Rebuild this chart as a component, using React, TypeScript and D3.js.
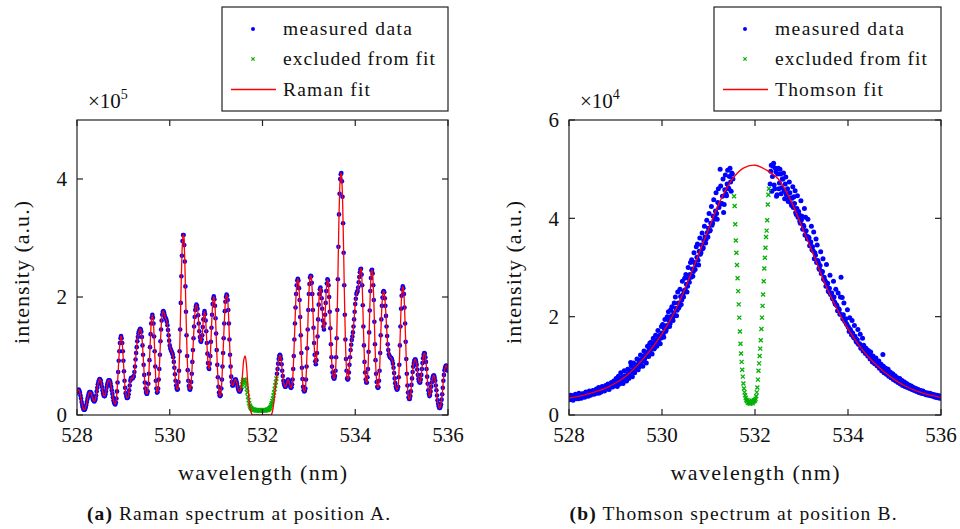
import React from 'react';
import * as d3 from 'd3';

// shared axis settings
const xDomain: [number, number] = [528, 536];
const xTicks = [528, 530, 532, 534, 536];
const ramanYTicks = [0, 2, 4];
const thomsonYTicks = [0, 2, 4, 6];

// Raman spectrum (units of 1e5), one sample every 0.025 nm from 528 nm
const ramanStep = 0.025;
const ramanStart = 528;
const ramanMeasured = [
  0.38, 0.42, 0.41, 0.33, 0.22, 0.13, 0.09, 0.10, 0.17, 0.27,
  0.35, 0.39, 0.38, 0.32, 0.25, 0.23, 0.28, 0.40, 0.52, 0.59,
  0.60, 0.53, 0.42, 0.33, 0.32, 0.40, 0.51, 0.58, 0.59, 0.53,
  0.42, 0.30, 0.21, 0.18, 0.28, 0.55, 0.92, 1.22, 1.34, 1.22,
  0.92, 0.58, 0.37, 0.29, 0.30, 0.42, 0.58, 0.63, 0.62, 0.66,
  0.82, 1.05, 1.25, 1.38, 1.44, 1.45, 1.32, 1.02, 0.68, 0.45,
  0.36, 0.40, 0.70, 1.15, 1.55, 1.70, 1.55, 1.08, 0.58, 0.38,
  0.45, 0.78, 1.25, 1.60, 1.75, 1.74, 1.66, 1.62, 1.52, 1.35,
  1.18, 1.10, 1.06, 0.98, 0.80, 0.58, 0.45, 0.44, 0.75, 1.45,
  2.35, 2.95, 3.05, 2.60, 1.75, 1.00, 0.58, 0.44, 0.46, 0.70,
  1.10, 1.50, 1.78, 1.87, 1.80, 1.55, 1.32, 1.24, 1.35, 1.62,
  1.76, 1.60, 1.22, 0.88, 0.78, 1.00, 1.48, 1.88, 2.01, 1.85,
  1.38, 0.85, 0.48, 0.33, 0.34, 0.60, 1.05, 1.55, 1.92, 2.04,
  1.95, 1.55, 1.02, 0.65, 0.50, 0.52, 0.59, 0.60, 0.53, 0.44,
  0.40, 0.42, 0.48, 0.56, 0.60, 0.58, 0.50, 0.38, 0.25, 0.16,
  0.12, 0.10, 0.09, 0.09, 0.08, 0.08, 0.08, 0.08, 0.08, 0.08,
  0.08, 0.08, 0.08, 0.08, 0.09, 0.09, 0.11, 0.14, 0.20, 0.28,
  0.38, 0.50, 0.62, 0.78, 0.95, 1.02, 0.95, 0.75, 0.58, 0.50,
  0.48, 0.55, 0.60, 0.56, 0.48, 0.47, 0.60, 1.00, 1.55, 2.05,
  2.28, 2.28, 1.95, 1.35, 0.80, 0.48, 0.40, 0.45, 0.82, 1.45,
  2.05, 2.33, 2.35, 2.05, 1.48, 1.02, 0.86, 1.05, 1.62, 2.05,
  2.16, 1.98, 1.60, 1.45, 1.70, 2.10, 2.30, 2.20, 1.75, 1.20,
  0.82, 0.65, 0.62, 0.75, 1.30, 2.30, 3.40, 4.00, 4.10, 3.70,
  2.75, 1.70, 0.95, 0.62, 0.62, 0.85, 1.10, 1.27, 1.40, 1.62,
  1.88, 2.05, 2.10, 2.25, 2.42, 2.48, 2.20, 1.50, 0.90, 0.60,
  0.55, 0.78, 1.40, 2.10, 2.45, 2.40, 1.95, 1.20, 0.70, 0.48,
  0.47, 0.75, 1.35, 1.85, 2.08, 2.08, 1.85, 1.50, 1.20, 1.03,
  0.98, 0.97, 0.92, 0.80, 0.62, 0.48, 0.43, 0.48, 0.85, 1.50,
  2.02, 2.18, 2.05, 1.55, 0.95, 0.50, 0.30, 0.27, 0.40, 0.62,
  0.82, 0.92, 0.94, 0.85, 0.68, 0.57, 0.55, 0.68, 0.88, 1.02,
  1.04, 0.90, 0.65, 0.42, 0.32, 0.40, 0.55, 0.65, 0.67, 0.58,
  0.42, 0.25, 0.15, 0.12, 0.18, 0.35, 0.58, 0.76, 0.83, 0.82,
  0.75,
];
// the in-between detector pixels, starting at 528.0125 nm
const ramanMidStart = 528.0125;
const ramanMeasuredMid = [
  0.41, 0.43, 0.38, 0.28, 0.17, 0.10, 0.09, 0.13, 0.22, 0.31,
  0.38, 0.39, 0.36, 0.28, 0.24, 0.25, 0.33, 0.46, 0.56, 0.61,
  0.58, 0.48, 0.37, 0.32, 0.35, 0.46, 0.55, 0.59, 0.57, 0.48,
  0.36, 0.25, 0.19, 0.21, 0.40, 0.73, 1.08, 1.30, 1.30, 1.08,
  0.74, 0.46, 0.32, 0.29, 0.35, 0.50, 0.62, 0.63, 0.64, 0.73,
  0.94, 1.15, 1.32, 1.42, 1.46, 1.41, 1.18, 0.85, 0.55, 0.39,
  0.36, 0.53, 0.93, 1.37, 1.65, 1.65, 1.33, 0.82, 0.45, 0.39,
  0.60, 1.02, 1.45, 1.70, 1.76, 1.70, 1.64, 1.58, 1.44, 1.26,
  1.13, 1.08, 1.03, 0.90, 0.69, 0.50, 0.43, 0.56, 1.08, 1.90,
  2.70, 3.05, 2.88, 2.18, 1.35, 0.76, 0.49, 0.43, 0.56, 0.90,
  1.30, 1.66, 1.84, 1.85, 1.69, 1.42, 1.26, 1.28, 1.49, 1.71,
  1.71, 1.42, 1.04, 0.80, 0.87, 1.24, 1.70, 1.97, 1.96, 1.64,
  1.10, 0.64, 0.38, 0.32, 0.45, 0.82, 1.30, 1.76, 2.00, 2.02,
  1.78, 1.28, 0.82, 0.56, 0.50, 0.56, 0.60, 0.57, 0.48, 0.41,
  0.40, 0.45, 0.52, 0.59, 0.60, 0.55, 0.44, 0.31, 0.20, 0.14,
  0.11, 0.09, 0.09, 0.085, 0.08, 0.08, 0.08, 0.08, 0.08, 0.08,
  0.08, 0.08, 0.08, 0.085, 0.09, 0.10, 0.12, 0.17, 0.24, 0.33,
  0.44, 0.56, 0.70, 0.87, 1.00, 1.00, 0.86, 0.66, 0.53, 0.48,
  0.51, 0.58, 0.59, 0.52, 0.46, 0.52, 0.78, 1.28, 1.82, 2.20,
  2.31, 2.15, 1.66, 1.05, 0.61, 0.42, 0.41, 0.60, 1.13, 1.78,
  2.22, 2.36, 2.24, 1.78, 1.22, 0.91, 0.93, 1.33, 1.87, 2.13,
  2.10, 1.80, 1.50, 1.55, 1.90, 2.23, 2.28, 2.00, 1.47, 0.98,
  0.72, 0.62, 0.66, 0.98, 1.78, 2.85, 3.75, 4.08, 3.96, 3.25,
  2.20, 1.28, 0.75, 0.60, 0.72, 0.98, 1.19, 1.33, 1.50, 1.75,
  1.97, 2.08, 2.16, 2.34, 2.47, 2.38, 1.86, 1.18, 0.72, 0.55,
  0.64, 1.07, 1.77, 2.32, 2.46, 2.20, 1.58, 0.93, 0.56, 0.46,
  0.58, 1.05, 1.62, 1.99, 2.10, 1.98, 1.68, 1.34, 1.10, 1.00,
  0.97, 0.95, 0.87, 0.71, 0.54, 0.45, 0.44, 0.64, 1.18, 1.80,
  2.13, 2.15, 1.82, 1.24, 0.70, 0.38, 0.27, 0.32, 0.51, 0.73,
  0.88, 0.94, 0.90, 0.77, 0.61, 0.55, 0.60, 0.78, 0.96, 1.05,
  0.98, 0.78, 0.53, 0.36, 0.34, 0.48, 0.61, 0.67, 0.63, 0.50,
  0.33, 0.19, 0.12, 0.14, 0.26, 0.46, 0.68, 0.80, 0.84, 0.79,
];
// points inside this window are drawn as "excluded from fit"
const ramanExcluded: [number, number] = [531.54, 532.31];
// the fit only departs from the data around the laser line
const ramanFitPatchStart = 531.525;
const ramanFitPatch = [
  0.42, 0.52, 0.75, 0.95, 1.00, 0.88, 0.62, 0.35, 0.15, 0.05,
  0.01, 0.00, 0.00, 0.00, 0.00, 0.00, 0.00, 0.00, 0.00, 0.00,
  0.00, 0.00, 0.00, 0.00, 0.00, 0.00, 0.00, 0.02, 0.10, 0.25,
  0.45, 0.62, 0.78,
];

// Thomson spectrum (units of 1e4)
const thomsonFitStart = 528;
const thomsonFitStep = 0.25;
const thomsonFit = [
  0.35, 0.39, 0.45, 0.53, 0.65, 0.81, 1.04, 1.32, 1.65, 2.06,
  2.58, 3.18, 3.78, 4.35, 4.78, 5.02, 5.08, 4.98, 4.80, 4.40,
  3.85, 3.28, 2.68, 2.18, 1.75, 1.40, 1.12, 0.90, 0.72, 0.58,
  0.48, 0.41, 0.36,
];
const thomsonStep = 0.025;
// blue side of the notch
const thomsonBlueLeftStart = 528;
const thomsonBlueLeft = [
  0.37, 0.33, 0.36, 0.39, 0.34, 0.35, 0.40, 0.36, 0.33, 0.41,
  0.38, 0.42, 0.37, 0.40, 0.45, 0.39, 0.43, 0.41, 0.47, 0.42,
  0.44, 0.49, 0.43, 0.46, 0.51, 0.48, 0.45, 0.53, 0.50, 0.55,
  0.51, 0.56, 0.59, 0.53, 0.58, 0.62, 0.57, 0.64, 0.60, 0.66,
  0.63, 0.68, 0.71, 0.65, 0.74, 0.69, 0.77, 0.73, 0.80, 0.76,
  0.79, 0.85, 0.81, 1.07, 0.90, 0.87, 0.95, 0.92, 1.01, 0.97,
  1.06, 1.02, 1.13, 1.09, 1.19, 1.14, 1.25, 1.20, 1.28, 1.33,
  1.27, 1.36, 1.41, 1.34, 1.48, 1.45, 1.53, 1.49, 1.62, 1.56,
  1.67, 1.63, 1.76, 1.70, 1.82, 1.79, 1.92, 1.86, 2.01, 1.95,
  2.08, 2.02, 2.17, 2.13, 2.28, 2.22, 2.41, 2.34, 2.45, 2.52,
  2.55, 2.66, 2.62, 2.78, 2.86, 2.80, 2.97, 2.92, 3.10, 3.05,
  3.21, 3.15, 3.33, 3.27, 3.46, 3.38, 3.55, 3.62, 3.58, 3.71,
  3.80, 3.74, 3.90, 3.86, 4.05, 3.98, 4.15, 4.10, 4.32, 4.22,
  5.00, 4.30, 4.45, 4.12, 4.58, 4.50, 4.70, 4.62, 4.85, 4.74,
  4.92, 4.80,
];
const thomsonBlueLeft2Start = 528.0125;
const thomsonBlueLeft2 = [
  0.31, 0.40, 0.35, 0.30, 0.38, 0.42, 0.33, 0.37, 0.44, 0.35,
  0.34, 0.43, 0.40, 0.36, 0.47, 0.43, 0.38, 0.49, 0.40, 0.46,
  0.50, 0.42, 0.47, 0.53, 0.44, 0.56, 0.49, 0.47, 0.58, 0.52,
  0.49, 0.60, 0.55, 0.63, 0.52, 0.59, 0.66, 0.57, 0.69, 0.62,
  0.74, 0.58, 0.79, 0.63, 0.86, 0.70, 0.64, 0.90, 0.76, 0.69,
  0.93, 0.74, 0.90, 1.00, 0.78, 1.06, 0.86, 0.97, 1.14, 0.92,
  0.98, 1.22, 1.10, 0.99, 1.30, 1.18, 1.06, 1.40, 1.19, 1.46,
  1.48, 1.24, 1.56, 1.36, 1.62, 1.40, 1.72, 1.58, 1.45, 1.80,
  1.84, 1.58, 1.94, 1.72, 2.00, 2.10, 1.80, 2.14, 2.20, 1.92,
  2.28, 2.40, 2.02, 2.50, 2.18, 2.56, 2.25, 2.72, 2.40, 2.78,
  2.86, 2.50, 3.00, 2.70, 3.10, 3.16, 2.82, 3.30, 2.96, 3.42,
  3.48, 3.05, 3.60, 3.30, 3.70, 3.40, 3.84, 3.50, 3.96, 3.62,
  4.10, 3.76, 4.24, 3.90, 4.38, 4.04, 4.52, 3.98, 4.60, 4.28,
  4.66, 4.30, 4.80, 4.28, 4.88, 4.46, 4.98, 4.60, 5.02, 4.55, 4.90,
];
// red side of the notch
const thomsonBlueRightStart = 532.325;
const thomsonBlueRight = [
  4.70, 5.08, 4.85, 5.12, 4.60, 4.95, 4.48,
  5.02, 4.72, 4.90, 4.62, 4.80, 4.55, 4.70, 4.48, 4.60, 4.40,
  4.52, 4.30, 4.41, 4.22, 4.30, 4.12, 4.20, 4.02, 4.08, 3.90,
  3.97, 3.78, 3.84, 3.66, 3.75, 3.58, 3.62, 3.44, 3.52, 3.36,
  3.34, 3.18, 3.25, 3.10, 3.14, 2.98, 3.04, 2.88, 2.92, 2.76,
  2.74, 2.62, 2.66, 2.52, 2.58, 2.45, 2.48, 2.36, 2.40, 2.26,
  2.24, 2.12, 2.16, 2.05, 2.80, 2.39, 2.04, 1.92, 1.96, 1.84,
  1.80, 1.70, 1.74, 1.63, 1.67, 1.57, 1.60, 1.50, 1.53, 1.44,
  1.45, 1.36, 1.39, 1.30, 1.33, 1.25, 1.28, 1.20, 1.22, 1.14,
  1.16, 1.08, 1.11, 1.04, 1.16, 1.00, 1.02, 0.95, 0.98, 0.90,
  1.23, 0.86, 0.90, 0.83, 0.86, 0.79, 0.82, 0.76, 0.79, 0.72,
  0.75, 0.69, 0.72, 0.66, 0.69, 0.63, 0.66, 0.60, 0.64, 0.58,
  0.61, 0.56, 0.59, 0.54, 0.57, 0.52, 0.55, 0.50, 0.53, 0.48,
  0.51, 0.46, 0.49, 0.44, 0.47, 0.43, 0.45, 0.41, 0.44, 0.40,
  0.43, 0.39, 0.42, 0.38, 0.40, 0.36, 0.39, 0.35, 0.38, 0.34, 0.36,
];
const thomsonBlueRight2Start = 532.3375;
const thomsonBlueRight2 = [
  4.96, 4.55, 5.06, 4.68, 5.02, 4.45, 4.90, 4.60, 5.00, 4.50,
  4.80, 4.92, 4.40, 4.84, 4.50, 4.34, 4.74, 4.42, 4.26, 4.64,
  4.44, 4.56, 4.08, 4.46, 4.14, 3.94, 4.36, 4.04, 3.86, 4.20,
  4.02, 3.64, 3.98, 3.60, 3.46, 3.84, 3.42, 3.72, 3.30, 3.58,
  3.46, 3.10, 2.96, 3.32, 2.90, 3.18, 2.80, 2.72, 3.06, 2.68,
  2.50, 2.84, 2.46, 2.38, 2.72, 2.30, 2.56, 2.22, 2.48, 2.14,
  2.40, 2.04, 1.96, 2.28, 1.90, 1.86, 2.14, 1.78, 1.98, 1.70,
  1.92, 1.60, 1.82, 1.55, 1.48, 1.74, 1.44, 1.64, 1.38, 1.56,
  1.42, 1.32, 1.36, 1.26, 1.31, 1.22, 1.28, 1.17, 1.20, 1.12,
  1.15, 1.08, 1.04, 1.10, 0.99, 1.03, 0.96, 0.99, 0.91, 0.95,
  0.88, 0.93, 0.84, 0.87, 0.80, 0.84, 0.77, 0.80, 0.73, 0.76,
  0.70, 0.74, 0.67, 0.70, 0.64, 0.67, 0.61, 0.64, 0.58, 0.61,
  0.55, 0.59, 0.53, 0.56, 0.51, 0.54, 0.49, 0.52, 0.47, 0.50,
  0.45, 0.49, 0.44, 0.46, 0.42, 0.45, 0.41, 0.44, 0.40, 0.42,
  0.38, 0.41, 0.37, 0.40, 0.36, 0.39, 0.35,
];
// points in the notch around the laser line, excluded from the fit
const thomsonExclStart = 531.55;
const thomsonExclStep = 0.0125;
const thomsonExcluded = [
  4.45, 4.25, 3.88, 3.55, 3.30, 3.05, 2.78, 2.52, 2.25, 1.98,
  1.70, 1.45, 1.25, 1.08, 0.92, 0.78, 0.64, 0.54, 0.46, 0.40,
  0.35, 0.31, 0.28, 0.30, 0.25, 0.27, 0.24, 0.26, 0.23, 0.27,
  0.25, 0.29, 0.24, 0.27, 0.30, 0.28, 0.30, 0.33, 0.38, 0.46,
  0.56, 0.72, 0.90, 1.05, 1.20, 1.35, 1.52, 1.75, 1.98, 2.22,
  2.45, 2.72, 2.98, 3.20, 3.40, 3.62, 3.75, 3.96, 4.28, 4.48,
  4.60,
];

type Pt = [number, number];
const toPts = (start: number, step: number, vals: number[]): Pt[] =>
  vals.map((v, i) => [start + i * step, v]);

const ramanAll = [
  ...toPts(ramanStart, ramanStep, ramanMeasured),
  ...toPts(ramanMidStart, ramanStep, ramanMeasuredMid),
].sort((a, b) => a[0] - b[0]);
const inRamanExcl = (w: number) => w >= ramanExcluded[0] && w <= ramanExcluded[1];
const ramanBlue = ramanAll.filter(d => !inRamanExcl(d[0]));
const ramanGreen = ramanAll.filter(d => inRamanExcl(d[0]));
const patchPts = toPts(ramanFitPatchStart, ramanStep, ramanFitPatch);
const patchEnd = patchPts[patchPts.length - 1][0];
const ramanFit: Pt[] = [
  ...ramanAll.filter(d => d[0] < ramanFitPatchStart - 1e-6 || d[0] > patchEnd + 1e-6),
  ...patchPts,
].sort((a, b) => a[0] - b[0]);

const thomsonBlue = [
  ...toPts(thomsonBlueLeftStart, thomsonStep, thomsonBlueLeft),
  ...toPts(thomsonBlueLeft2Start, thomsonStep, thomsonBlueLeft2),
  ...toPts(thomsonBlueRightStart, thomsonStep, thomsonBlueRight),
  ...toPts(thomsonBlueRight2Start, thomsonStep, thomsonBlueRight2),
];
const thomsonGreen = toPts(thomsonExclStart, thomsonExclStep, thomsonExcluded);
const thomsonFitPts = toPts(thomsonFitStart, thomsonFitStep, thomsonFit);

const FONT = "'Liberation Serif', 'DejaVu Serif', serif";
const BLUE = '#0000ff';
const GREEN = '#00b000';
const RED = '#ff0000';
const INK = '#222';
const TOP = 120;
const BOTTOM = 415;

const cross = 'M-2,-2L2,2M-2,2L2,-2';

type PanelProps = {
  left: number;
  right: number;
  yMax: number;
  yTicks: number[];
  exponent: string;
  measured: Pt[];
  excluded: Pt[];
  fit: Pt[];
  fitLabel: string;
  fitLabelW: number;
  legendLeft: number;
  tag: string;
  caption: string;
  captionX: number;
  captionW: number;
  dotR: number;
};

function Panel(p: PanelProps) {
  const x = d3.scaleLinear().domain(xDomain).range([p.left, p.right]);
  const y = d3.scaleLinear().domain([0, p.yMax]).range([BOTTOM, TOP]);
  const line = d3.line<Pt>()
    .x(d => x(d[0]))
    .y(d => y(d[1]))
    .curve(d3.curveCatmullRom.alpha(0.5));
  const clipId = `clip-${p.left}`;
  const midX = (p.left + p.right) / 2;
  const midY = (TOP + BOTTOM) / 2 + 5;
  const lx = p.legendLeft;

  return (
    <g style={{ fontFamily: FONT }} fill="#111">
      <defs>
        <clipPath id={clipId}>
          <rect x={p.left} y={TOP} width={p.right - p.left} height={BOTTOM - TOP} />
        </clipPath>
      </defs>

      {/* data */}
      <g clipPath={`url(#${clipId})`}>
        {p.measured.map((d, i) => (
          <circle key={i} cx={x(d[0])} cy={y(d[1])} r={p.dotR} fill={BLUE} />
        ))}
        {p.excluded.map((d, i) => (
          <path key={i} transform={`translate(${x(d[0])},${y(d[1])})`} d={cross}
            stroke={GREEN} strokeWidth={1.3} fill="none" />
        ))}
        <path d={line(p.fit) || ''} fill="none" stroke={RED} strokeWidth={1.3} />
      </g>

      {/* frame and inward ticks */}
      <rect x={p.left} y={TOP} width={p.right - p.left} height={BOTTOM - TOP}
        fill="none" stroke={INK} strokeWidth={1.2} />
      {xTicks.map(t => (
        <g key={t} stroke={INK} strokeWidth={1.2}>
          <line x1={x(t)} x2={x(t)} y1={BOTTOM} y2={BOTTOM - 6} />
          <line x1={x(t)} x2={x(t)} y1={TOP} y2={TOP + 6} />
        </g>
      ))}
      {p.yTicks.map(t => (
        <g key={t} stroke={INK} strokeWidth={1.2}>
          <line x1={p.left} x2={p.left + 6} y1={y(t)} y2={y(t)} />
          <line x1={p.right} x2={p.right - 6} y1={y(t)} y2={y(t)} />
        </g>
      ))}

      {/* tick labels */}
      {xTicks.map(t => (
        <text key={t} x={x(t)} y={BOTTOM + 27} fontSize={21} textAnchor="middle">{t}</text>
      ))}
      {p.yTicks.map(t => (
        <text key={t} x={p.left - 10} y={y(t)} dy="0.35em" fontSize={21} textAnchor="end">{t}</text>
      ))}
      <text x={p.left + 11} y={108} fontSize={21}>
        ×10<tspan dy={-9} fontSize={14}>{p.exponent}</tspan>
      </text>

      {/* axis titles */}
      <text x={midX} y={BOTTOM + 65} fontSize={22} textAnchor="middle"
        textLength={169} lengthAdjust="spacing">wavelength (nm)</text>
      <text transform={`translate(${p.left - 48},${midY}) rotate(-90)`} fontSize={22}
        textAnchor="middle" textLength={143} lengthAdjust="spacing">intensity (a.u.)</text>

      {/* legend */}
      <rect x={lx} y={7} width={p.right - lx} height={104} fill="#fff" stroke={INK} strokeWidth={1.2} />
      <circle cx={lx + 31} cy={29} r={2} fill={BLUE} />
      <path transform={`translate(${lx + 31},59)`} d="M-1.6,-1.6L1.6,1.6M-1.6,1.6L1.6,-1.6"
        stroke={GREEN} strokeWidth={1.2} />
      <line x1={lx + 9} x2={lx + 54} y1={89.5} y2={89.5} stroke={RED} strokeWidth={1.4} />
      <text x={lx + 61} y={35} fontSize={19.5} textLength={129} lengthAdjust="spacing">measured data</text>
      <text x={lx + 61} y={65} fontSize={19.5} textLength={152} lengthAdjust="spacing">excluded from fit</text>
      <text x={lx + 61} y={96} fontSize={19.5} textLength={p.fitLabelW} lengthAdjust="spacing">{p.fitLabel}</text>

      {/* caption */}
      <text x={p.captionX} y={520} fontSize={19.5} textAnchor="middle"
        textLength={p.captionW} lengthAdjust="spacing">
        <tspan fontWeight="bold">({p.tag})</tspan> {p.caption}
      </text>
    </g>
  );
}

export default function App() {
  return (
    <svg width={960} height={529} style={{ position: 'absolute', left: 0, top: 0, background: '#fff' }}>
      <Panel left={77} right={448} yMax={5} yTicks={ramanYTicks} exponent="5"
        measured={ramanBlue} excluded={ramanGreen} fit={ramanFit}
        fitLabel="Raman fit" fitLabelW={87} legendLeft={222}
        tag="a" caption="Raman spectrum at position A." captionX={238.5} captionW={303} dotR={2.3} />
      <Panel left={569} right={941} yMax={6} yTicks={thomsonYTicks} exponent="4"
        measured={thomsonBlue} excluded={thomsonGreen} fit={thomsonFitPts}
        fitLabel="Thomson fit" fitLabelW={108} legendLeft={714}
        tag="b" caption="Thomson spectrum at position B." captionX={733} captionW={327} dotR={2.5} />
    </svg>
  );
}
